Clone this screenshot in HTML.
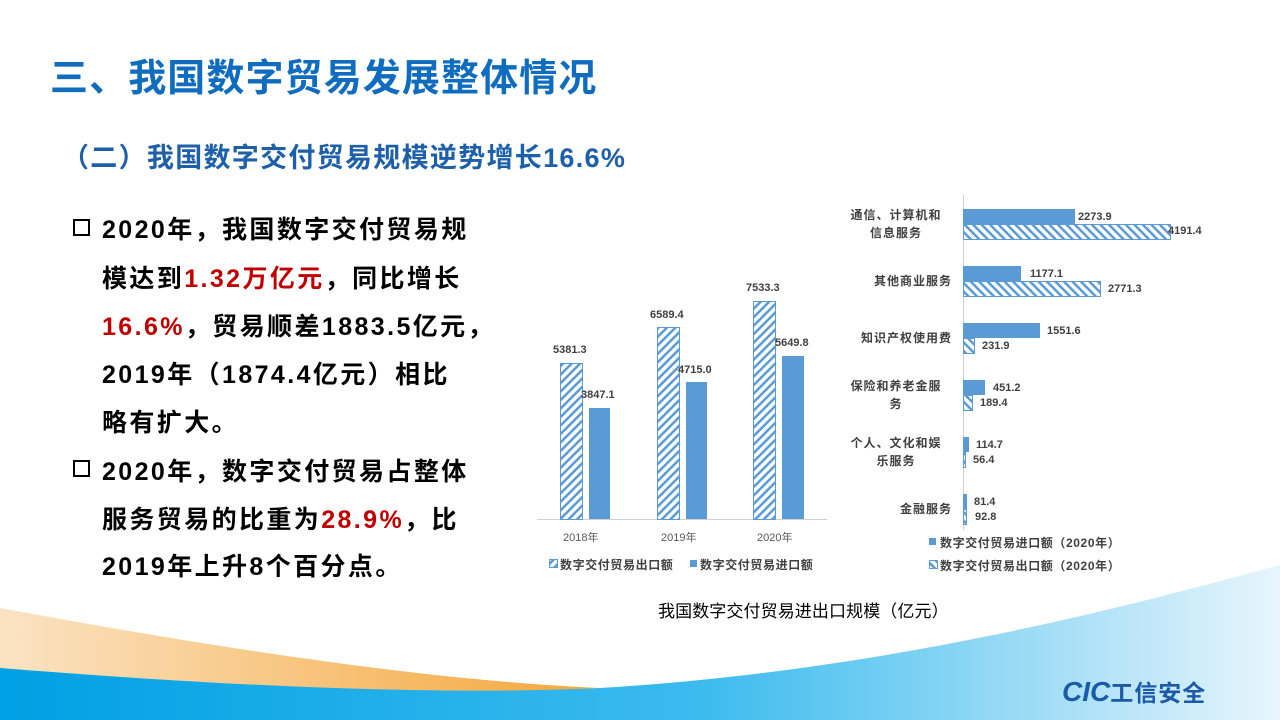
<!DOCTYPE html>
<html><head><meta charset="utf-8"><style>
body{margin:0;width:1280px;height:720px;overflow:hidden;background:#fff;font-family:"Liberation Sans","Noto Sans CJK SC",sans-serif;position:relative}
.t{position:absolute;white-space:nowrap}
.ln{position:absolute;left:102px;font-size:25px;font-weight:bold;color:#000;white-space:nowrap;letter-spacing:2.4px}
.bx{position:absolute;left:73px;width:17px;height:17px;border:2.5px solid #000;box-sizing:border-box}
.r{color:#c00000}
</style></head><body>
<svg width="1280" height="720" style="position:absolute;left:0;top:0">
<defs>
<linearGradient id="bl" x1="0" x2="1" y1="0" y2="0"><stop offset="0" stop-color="#00a0e4"/><stop offset="0.55" stop-color="#3cbbee"/><stop offset="1" stop-color="#e8f5fc"/></linearGradient>
<linearGradient id="or" x1="0" x2="1"><stop offset="0" stop-color="#fbe3c4"/><stop offset="1" stop-color="#f4a73a"/></linearGradient>
<pattern id="h1" width="6" height="6" patternUnits="userSpaceOnUse" patternTransform="rotate(45)"><rect width="6" height="6" fill="#fff"/><rect width="2.5" height="6" fill="#5b9bd5"/></pattern>
<pattern id="h2" width="6" height="6" patternUnits="userSpaceOnUse" patternTransform="rotate(-45)"><rect width="6" height="6" fill="#fff"/><rect width="2.5" height="6" fill="#5b9bd5"/></pattern>
</defs>
<path d="M0,608 C200,645 420,680 600,688 L0,720 Z" fill="url(#or)"/>
<path d="M0,668 C250,688 450,695 600,688 C900,670 1150,600 1280,565 L1280,720 L0,720 Z" fill="url(#bl)"/>
<line x1="537" y1="519.5" x2="827" y2="519.5" stroke="#d0d0d0"/>
<g stroke="#5b9bd5" stroke-width="1">
<rect x="560.5" y="363.5" width="22" height="156" fill="url(#h1)"/>
<rect x="657.5" y="327.5" width="22" height="192" fill="url(#h1)"/>
<rect x="753.5" y="301.5" width="22" height="218" fill="url(#h1)"/>
</g>
<g fill="#5b9bd5">
<rect x="589" y="408" width="21" height="111"/>
<rect x="686" y="382" width="21" height="137"/>
<rect x="782" y="356" width="22" height="163"/>
</g>
<rect x="549.5" y="559.5" width="8" height="8" fill="url(#h1)" stroke="#5b9bd5"/>
<rect x="690" y="560" width="7" height="7" fill="#5b9bd5"/>
<line x1="963.5" y1="195" x2="963.5" y2="530" stroke="#d0d0d0"/>
<g fill="#5b9bd5">
<rect x="963" y="209" width="112" height="15"/>
<rect x="963" y="266" width="58" height="15"/>
<rect x="963" y="323" width="77" height="15"/>
<rect x="963" y="380" width="22" height="15"/>
<rect x="963" y="437" width="6" height="15"/>
<rect x="963" y="494" width="4" height="15"/>
</g>
<g stroke="#5b9bd5" fill="url(#h2)">
<rect x="963.5" y="224.5" width="207" height="15"/>
<rect x="963.5" y="281.5" width="137" height="15"/>
<rect x="963.5" y="338.5" width="11" height="15"/>
<rect x="963.5" y="395.5" width="9" height="15"/>
<rect x="963.5" y="452.5" width="2" height="15"/>
<rect x="963.5" y="509.5" width="3" height="15"/>
</g>
<rect x="929" y="538" width="7" height="7" fill="#5b9bd5"/>
<rect x="929.5" y="560.5" width="8" height="8" fill="url(#h2)" stroke="#5b9bd5"/>
</svg>
<div class="t" style="left:50px;top:47px;font-size:38px;font-weight:bold;color:#0f6cbf;letter-spacing:1.1px">三、我国数字贸易发展整体情况</div>
<div class="t" style="left:62px;top:136px;font-size:27px;font-weight:bold;color:#1d5fa8;letter-spacing:1.3px">（二）我国数字交付贸易规模逆势增长16.6%</div>
<div class="bx" style="top:219px"></div>
<div class="ln" style="top:210px">2020年，我国数字交付贸易规</div>
<div class="ln" style="top:259px">模达到<span class="r">1.32万亿元</span>，同比增长</div>
<div class="ln" style="top:307px"><span class="r">16.6%</span>，贸易顺差1883.5亿元，</div>
<div class="ln" style="top:355px">2019年（1874.4亿元）相比</div>
<div class="ln" style="top:403px">略有扩大。</div>
<div class="bx" style="top:460px"></div>
<div class="ln" style="top:452px">2020年，数字交付贸易占整体</div>
<div class="ln" style="top:500px">服务贸易的比重为<span class="r">28.9%</span>，比</div>
<div class="ln" style="top:547px">2019年上升8个百分点。</div>
<div style="font-size:11px;color:#404040;font-weight:bold">
<div class="t" style="left:553px;top:344px">5381.3</div>
<div class="t" style="left:581px;top:389px">3847.1</div>
<div class="t" style="left:650px;top:309px">6589.4</div>
<div class="t" style="left:678px;top:364px">4715.0</div>
<div class="t" style="left:746px;top:282px">7533.3</div>
<div class="t" style="left:775px;top:337px">5649.8</div>
<div class="t" style="left:1078px;top:211px">2273.9</div>
<div class="t" style="left:1168px;top:225px">4191.4</div>
<div class="t" style="left:1030px;top:268px">1177.1</div>
<div class="t" style="left:1108px;top:283px">2771.3</div>
<div class="t" style="left:1047px;top:325px">1551.6</div>
<div class="t" style="left:982px;top:340px">231.9</div>
<div class="t" style="left:993px;top:382px">451.2</div>
<div class="t" style="left:980px;top:397px">189.4</div>
<div class="t" style="left:976px;top:439px">114.7</div>
<div class="t" style="left:973px;top:454px">56.4</div>
<div class="t" style="left:974px;top:496px">81.4</div>
<div class="t" style="left:975px;top:511px">92.8</div>
</div>
<div style="font-size:11px;color:#595959">
<div class="t" style="left:563px;top:529px">2018年</div>
<div class="t" style="left:661px;top:529px">2019年</div>
<div class="t" style="left:757px;top:529px">2020年</div>
</div>
<div style="font-size:12px;color:#404040;font-weight:bold;letter-spacing:0.6px">
<div class="t" style="left:560px;top:556px">数字交付贸易出口额</div>
<div class="t" style="left:700px;top:556px">数字交付贸易进口额</div>
<div class="t" style="left:940px;top:534px">数字交付贸易进口额（2020年）</div>
<div class="t" style="left:940px;top:557px">数字交付贸易出口额（2020年）</div>
<div class="t" style="left:840px;top:206px;width:112px;text-align:center;line-height:18px;letter-spacing:1px">通信、计算机和<br>信息服务</div>
<div class="t" style="left:840px;top:272px;width:112px;text-align:right;letter-spacing:1px">其他商业服务</div>
<div class="t" style="left:840px;top:329px;width:112px;text-align:right;letter-spacing:1px">知识产权使用费</div>
<div class="t" style="left:840px;top:377px;width:112px;text-align:center;line-height:18px;letter-spacing:1px">保险和养老金服<br>务</div>
<div class="t" style="left:840px;top:434px;width:112px;text-align:center;line-height:18px;letter-spacing:1px">个人、文化和娱<br>乐服务</div>
<div class="t" style="left:840px;top:500px;width:112px;text-align:right;letter-spacing:1px">金融服务</div>
</div>
<div class="t" style="left:658px;top:597px;font-size:17px;color:#000;letter-spacing:0.1px">我国数字交付贸易进出口规模（亿元）</div>
<div class="t" style="left:1062px;top:674px;font-size:28px;font-weight:bold;font-style:italic;color:#1a5aa8">CIC<span style="font-style:normal;font-size:23px;letter-spacing:1px">工信安全</span></div>
</body></html>
